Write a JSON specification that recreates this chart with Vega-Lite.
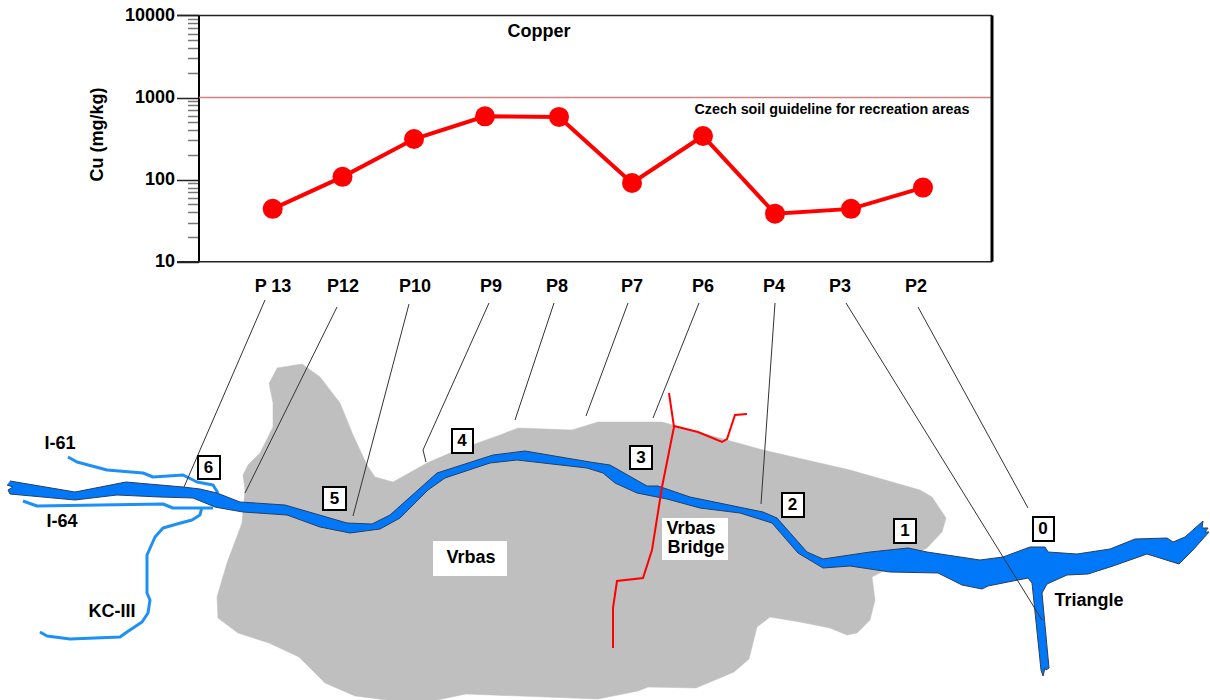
{
"$schema":"https://vega.github.io/schema/vega-lite/v6.json",
"width":1210,"height":700,"padding":0,"autosize":{"type":"none"},
"background":"white",
"config":{"view":{"stroke":null},"font":"Liberation Sans"},
"datasets":{
"land":[{"x":277,"y":368},{"x":302,"y":364},{"x":320,"y":377},{"x":340,"y":403},{"x":353,"y":435},{"x":367,"y":465},{"x":375,"y":477},{"x":393,"y":482},{"x":427,"y":463},{"x":450,"y":453},{"x":500,"y":435},{"x":518,"y":428},{"x":572,"y":430},{"x":598,"y":422},{"x":662,"y":422},{"x":763,"y":450},{"x":850,"y":470},{"x":920,"y":490},{"x":932,"y":497},{"x":946,"y":518},{"x":942,"y":532},{"x":927,"y":548},{"x":872,"y":577},{"x":875,"y":600},{"x":870,"y":620},{"x":857,"y":633},{"x":847,"y":635},{"x":830,"y":628},{"x":800,"y":622},{"x":770,"y":617},{"x":757,"y":627},{"x":749,"y":659},{"x":734,"y":672},{"x":696,"y":688},{"x":648,"y":687},{"x":638,"y":691},{"x":598,"y":699},{"x":466,"y":694},{"x":437,"y":700},{"x":387,"y":700},{"x":355,"y":696},{"x":325,"y":683},{"x":299,"y":657},{"x":269,"y":643},{"x":238,"y":633},{"x":218,"y":618},{"x":217,"y":597},{"x":227,"y":563},{"x":242,"y":523},{"x":245,"y":490},{"x":243,"y":475},{"x":248,"y":465},{"x":260,"y":453},{"x":273,"y":427},{"x":273,"y":403},{"x":269,"y":383}],
"river":[{"x":10,"y":481},{"x":75,"y":492},{"x":126,"y":482},{"x":183,"y":487},{"x":200,"y":489},{"x":217,"y":493},{"x":240,"y":502},{"x":285,"y":505},{"x":347,"y":523},{"x":372,"y":524},{"x":390,"y":515},{"x":437,"y":473},{"x":493,"y":455},{"x":525,"y":451},{"x":590,"y":462},{"x":610,"y":465},{"x":647,"y":486},{"x":658,"y":486},{"x":690,"y":497},{"x":763,"y":512},{"x":777,"y":518},{"x":807,"y":552},{"x":823,"y":559},{"x":870,"y":552},{"x":908,"y":548},{"x":927,"y":552},{"x":980,"y":560},{"x":1003,"y":557},{"x":1030,"y":547},{"x":1045,"y":547},{"x":1048,"y":552},{"x":1077,"y":554},{"x":1110,"y":549},{"x":1135,"y":539},{"x":1167,"y":538},{"x":1173,"y":542},{"x":1185,"y":537},{"x":1203,"y":521},{"x":1202,"y":528},{"x":1208,"y":528},{"x":1205,"y":532},{"x":1209,"y":532},{"x":1193,"y":550},{"x":1179,"y":564},{"x":1147,"y":554},{"x":1113,"y":566},{"x":1088,"y":574},{"x":1067,"y":575},{"x":1047,"y":584},{"x":1042,"y":593},{"x":1049,"y":668},{"x":1046,"y":670},{"x":1045,"y":668},{"x":1043,"y":676},{"x":1041,"y":670},{"x":1032,"y":583},{"x":1028,"y":578},{"x":988,"y":586},{"x":982,"y":589},{"x":962,"y":585},{"x":938,"y":573},{"x":890,"y":572},{"x":850,"y":566},{"x":823,"y":568},{"x":798,"y":553},{"x":772,"y":523},{"x":740,"y":513},{"x":700,"y":508},{"x":667,"y":499},{"x":637,"y":493},{"x":615,"y":483},{"x":603,"y":473},{"x":587,"y":468},{"x":517,"y":460},{"x":490,"y":463},{"x":445,"y":478},{"x":428,"y":490},{"x":400,"y":518},{"x":380,"y":529},{"x":350,"y":533},{"x":320,"y":527},{"x":287,"y":515},{"x":243,"y":512},{"x":220,"y":508},{"x":215,"y":507},{"x":193,"y":498},{"x":160,"y":497},{"x":117,"y":495},{"x":75,"y":500},{"x":10,"y":494},{"x":8,"y":490},{"x":13,"y":487},{"x":7,"y":485}],
"streams":[{"s":"I-61","x":68,"y":457},{"s":"I-61","x":77,"y":462},{"s":"I-61","x":107,"y":470},{"s":"I-61","x":143,"y":473},{"s":"I-61","x":153,"y":477},{"s":"I-61","x":183,"y":475},{"s":"I-61","x":197,"y":482},{"s":"I-61","x":213,"y":485},{"s":"I-61","x":218,"y":493},{"s":"I-64","x":23,"y":501},{"s":"I-64","x":37,"y":506},{"s":"I-64","x":163,"y":504},{"s":"I-64","x":173,"y":508},{"s":"I-64","x":213,"y":508},{"s":"KC-III","x":202,"y":507},{"s":"KC-III","x":200,"y":515},{"s":"KC-III","x":192,"y":520},{"s":"KC-III","x":177,"y":524},{"s":"KC-III","x":163,"y":528},{"s":"KC-III","x":155,"y":537},{"s":"KC-III","x":147,"y":555},{"s":"KC-III","x":147,"y":593},{"s":"KC-III","x":150,"y":600},{"s":"KC-III","x":148,"y":613},{"s":"KC-III","x":142,"y":622},{"s":"KC-III","x":127,"y":632},{"s":"KC-III","x":120,"y":637},{"s":"KC-III","x":70,"y":639},{"s":"KC-III","x":47,"y":636},{"s":"KC-III","x":40,"y":632}],
"roads":[{"r":"main","x":669,"y":393},{"r":"main","x":674,"y":427},{"r":"main","x":662,"y":487},{"r":"main","x":652,"y":550},{"r":"main","x":643,"y":578},{"r":"main","x":617,"y":581},{"r":"main","x":613,"y":608},{"r":"main","x":613,"y":648},{"r":"branch","x":674,"y":426},{"r":"branch","x":698,"y":432},{"r":"branch","x":722,"y":442},{"r":"branch","x":727,"y":439},{"r":"branch","x":735,"y":415},{"r":"branch","x":747,"y":414}],
"leaders":[{"p":"P 13","x":265,"y":300},{"p":"P 13","x":184,"y":487},{"p":"P12","x":337,"y":307},{"p":"P12","x":245,"y":493},{"p":"P10","x":409,"y":304},{"p":"P10","x":353,"y":516},{"p":"P9","x":489,"y":303},{"p":"P9","x":423,"y":450},{"p":"P9","x":426,"y":462},{"p":"P8","x":554,"y":303},{"p":"P8","x":515,"y":420},{"p":"P7","x":628,"y":303},{"p":"P7","x":586,"y":416},{"p":"P6","x":699,"y":303},{"p":"P6","x":653,"y":418},{"p":"P4","x":775,"y":303},{"p":"P4","x":761,"y":504},{"p":"P3","x":846,"y":303},{"p":"P3","x":1042,"y":620},{"p":"P2","x":918,"y":307},{"p":"P2","x":1028,"y":508}],
"whiteBoxes":[{"x":433,"x2":507,"y":541,"y2":576},{"x":662,"x2":728,"y":518,"y2":560}],
"numberBoxes":[{"n":"6","x":198,"x2":220,"y":456,"y2":479,"cx":208.5,"cy":468},{"n":"5","x":323,"x2":346,"y":487,"y2":510,"cx":334.5,"cy":499},{"n":"4","x":452,"x2":473,"y":429,"y2":453,"cx":462,"cy":441},{"n":"3","x":630,"x2":652,"y":446,"y2":469,"cx":641,"cy":458},{"n":"2","x":782,"x2":804,"y":493,"y2":517,"cx":792.5,"cy":505},{"n":"1","x":894,"x2":916,"y":519,"y2":543,"cx":905,"cy":531},{"n":"0","x":1033,"x2":1054,"y":517,"y2":541,"cx":1043,"cy":529}],
"mapLabels":[{"t":"I-61","x":60,"y":444},{"t":"I-64","x":62,"y":522},{"t":"KC-III","x":112,"y":612},{"t":"Vrbas","x":471,"y":558},{"t":"Vrbas","x":691,"y":529},{"t":"Bridge","x":696,"y":548},{"t":"Triangle","x":1089,"y":601},{"t":"P 13","x":273,"y":287},{"t":"P12","x":343,"y":287},{"t":"P10","x":415,"y":287},{"t":"P9","x":491,"y":287},{"t":"P8","x":557,"y":287},{"t":"P7","x":632,"y":287},{"t":"P6","x":703,"y":287},{"t":"P4","x":774,"y":287},{"t":"P3","x":840,"y":287},{"t":"P2","x":916,"y":287},{"t":"Copper","x":539,"y":32}],
"copper":[{"site":"P 13","x":272.7,"cu":44},{"site":"P12","x":342.5,"cu":108},{"site":"P10","x":414,"cu":312},{"site":"P9","x":485,"cu":590},{"site":"P8","x":559,"cu":580},{"site":"P7","x":632,"cu":91},{"site":"P6","x":703,"cu":340},{"site":"P4","x":775,"cu":38.5},{"site":"P3","x":851,"cu":44},{"site":"P2","x":923,"cu":80}],
"frame":[{"x":177,"x2":992,"cu":10000,"c":"top"},{"x":177,"x2":992,"cu":10,"c":"bottom"}],
"guide":[{"x":199,"x2":992,"cu":1000,"label":"Czech soil guideline for recreation areas"}]
},
"layer":[
{"encoding":{
"x":{"field":"x","type":"quantitative","scale":{"domain":[0,1210],"range":[0,1210],"nice":false},"axis":null},
"y":{"field":"y","type":"quantitative","scale":{"domain":[0,700],"range":[0,700],"nice":false},"axis":null}},
"layer":[
{"data":{"name":"land"},"mark":{"type":"line","fill":"#bfbfbf","stroke":"#bfbfbf","strokeWidth":0.5},"encoding":{"order":{"value":null}}},
{"data":{"name":"streams"},"mark":{"type":"line","stroke":"#1e90f5","strokeWidth":3,"strokeJoin":"round"},"encoding":{"detail":{"field":"s"},"order":{"value":null}}},
{"data":{"name":"river"},"mark":{"type":"line","fill":"#0078f8","stroke":"#2a3f5f","strokeWidth":1},"encoding":{"order":{"value":null}}},
{"data":{"name":"leaders"},"mark":{"type":"line","stroke":"#333333","strokeWidth":1},"encoding":{"detail":{"field":"p"},"order":{"value":null}}},
{"data":{"name":"roads"},"mark":{"type":"line","stroke":"#ff0000","strokeWidth":2},"encoding":{"detail":{"field":"r"},"order":{"value":null}}},
{"data":{"name":"whiteBoxes"},"mark":{"type":"rect","fill":"white"},"encoding":{"x2":{"field":"x2"},"y2":{"field":"y2"}}},
{"data":{"name":"numberBoxes"},"mark":{"type":"rect","fill":"white","stroke":"black","strokeWidth":2},"encoding":{"x2":{"field":"x2"},"y2":{"field":"y2"}}},
{"data":{"name":"numberBoxes"},"mark":{"type":"text","fontWeight":"bold","fontSize":17,"color":"black","baseline":"middle"},"encoding":{"x":{"field":"cx","type":"quantitative"},"y":{"field":"cy","type":"quantitative"},"text":{"field":"n"}}},
{"data":{"name":"mapLabels"},"mark":{"type":"text","fontWeight":"bold","fontSize":18,"color":"black","baseline":"middle"},"encoding":{"text":{"field":"t"}}}
]},
{"layer":[
{"data":{"name":"guide"},"mark":{"type":"rule","stroke":"#d08080","strokeWidth":1.5},"encoding":{
"x":{"field":"x","type":"quantitative","scale":{"domain":[0,1210],"range":[0,1210],"nice":false},
"axis":{"orient":"bottom","offset":-438.3,"values":[273,344,415,488,559,632,703,777,848,918],"labels":false,"domain":false,"grid":false,"tickSize":5,"tickWidth":2,"tickColor":"#222222","title":null}},
"x2":{"field":"x2"},
"y":{"field":"cu","type":"quantitative","scale":{"type":"log","domain":[10,10000],"range":[261.7,15.4]},
"axis":{"orient":"left","offset":-198.5,"values":[10,20,30,40,50,60,70,80,90,100,200,300,400,500,600,700,800,900,1000,2000,3000,4000,5000,6000,7000,8000,9000,10000],"labelExpr":"indexof([10,100,1000,10000],datum.value)>=0?datum.label:''","format":"d","labelOverlap":false,"labelFlush":false,"labelBound":false,"grid":false,"domainColor":"black","domainWidth":2,"tickColor":{"condition":{"test":"indexof([10,100,1000,10000],datum.value)>=0","value":"#222222"},"value":"#777777"},"tickWidth":1.5,"tickSize":{"condition":{"test":"indexof([10,100,1000,10000],datum.value)>=0","value":22},"value":11},"labelFontSize":18,"labelFontWeight":"bold","labelColor":"black","labelPadding":2,"title":"Cu (mg/kg)","titleFontSize":18,"titleFontWeight":"bold","titleColor":"black","titlePadding":18,"titleY":134}}}},
{"data":{"name":"guide"},"mark":{"type":"text","fontWeight":"bold","fontSize":14.3,"color":"black","x":832,"dy":12},"encoding":{"y":{"field":"cu","type":"quantitative"},"text":{"field":"label"}}},
{"data":{"name":"frame"},"mark":{"type":"rule","stroke":"#222222","strokeWidth":1.5},"encoding":{"x":{"field":"x","type":"quantitative"},"x2":{"field":"x2"},"y":{"field":"cu","type":"quantitative"}}},
{"data":{"values":[{"x":992,"cu":10,"cu2":10000}]},"mark":{"type":"rule","stroke":"black","strokeWidth":3},"encoding":{"x":{"field":"x","type":"quantitative"},"y":{"field":"cu","type":"quantitative"},"y2":{"field":"cu2"}}},
{"data":{"name":"copper"},"mark":{"type":"line","stroke":"#ff0000","strokeWidth":4},"encoding":{"x":{"field":"x","type":"quantitative"},"y":{"field":"cu","type":"quantitative"}}},
{"data":{"name":"copper"},"mark":{"type":"circle","size":400,"color":"#ff0000","opacity":1},"encoding":{"x":{"field":"x","type":"quantitative"},"y":{"field":"cu","type":"quantitative"}}}
]}
],
"resolve":{"scale":{"y":"independent"},"axis":{"y":"independent"}}
}
